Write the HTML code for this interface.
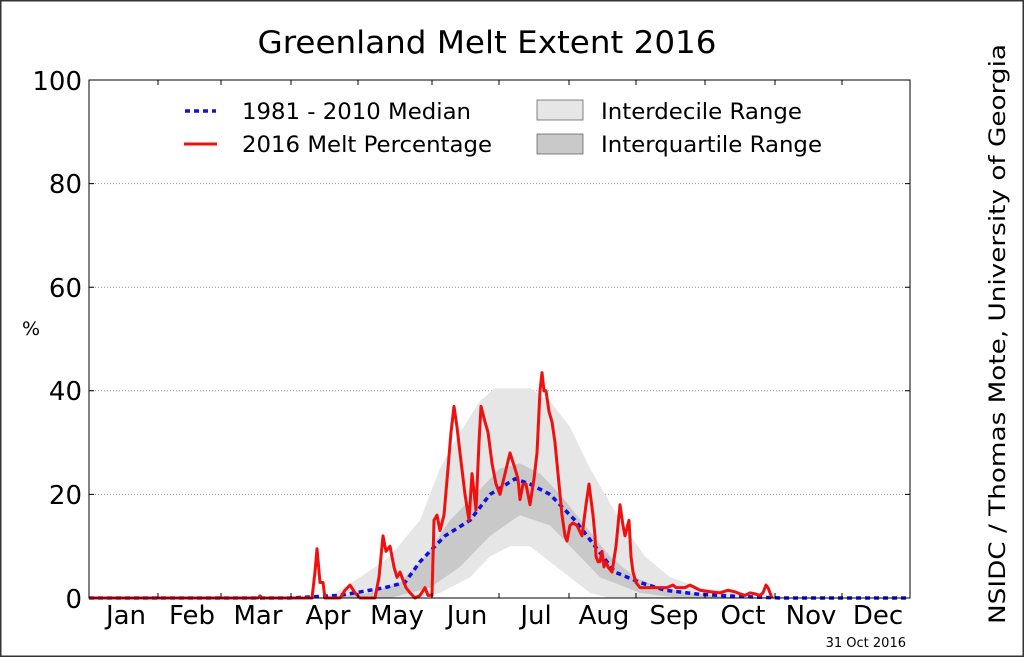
<!DOCTYPE html>
<html><head><meta charset="utf-8"><style>
html,body{margin:0;padding:0;background:#fff}
svg{display:block}
text{font-family:"DejaVu Sans","Liberation Sans",sans-serif;fill:#000}
</style></head><body>
<svg width="1024" height="657" viewBox="0 0 1024 657" xmlns="http://www.w3.org/2000/svg">
<rect x="0.5" y="0.5" width="1023" height="656" fill="#fff" stroke="#333" stroke-width="2"/>
<text x="487" y="53" font-size="31" text-anchor="middle" textLength="459" lengthAdjust="spacingAndGlyphs">Greenland Melt Extent 2016</text>
<text transform="translate(1005,334) rotate(-90)" font-size="22" text-anchor="middle" textLength="580" lengthAdjust="spacingAndGlyphs">NSIDC / Thomas Mote, University of Georgia</text>
<g stroke="#999" stroke-width="1" stroke-dasharray="1,2">
<line x1="89" x2="910" y1="494.4" y2="494.4"/><line x1="89" x2="910" y1="390.8" y2="390.8"/>
<line x1="89" x2="910" y1="287.2" y2="287.2"/><line x1="89" x2="910" y1="183.6" y2="183.6"/>
</g>
<g transform="translate(0,598) scale(1,-5.18)">
<polygon fill="#e6e6e6" points="300,0 320,0 335,1 360,4 390,8 420,15 440,25 460,32 480,38 495,40.5 530,40.5 550,38 570,33 590,25 620,15 645,8 670,4 700,2 740,1 800,0 800,0 610,0 590,1 570,4 550,7 530,10 510,10 490,8 470,4 440,1 420,0"/>
<polygon fill="#c9c9c9" points="330,0 370,1 400,3 425,8 450,15 475,20 500,25 520,26 540,24 560,20 585,14 610,8 635,4 660,2 690,1 740,0 680,0 640,1 600,4 580,8 550,14 520,16 490,12 460,6 430,2 390,0"/>
<polyline fill="none" stroke="#1010e0" stroke-width="3.5" vector-effect="non-scaling-stroke" stroke-dasharray="5,4" points="89,0 290,0 310,0.2 340,0.5 385,2 405,3 420,7 445,12 470,15 490,20 515,23 530,22 550,20 575,15 595,10 615,5 640,3 665,1.5 700,0.7 740,0.3 780,0 910,0"/>
<polyline fill="none" stroke="#f01010" stroke-width="3" vector-effect="non-scaling-stroke" stroke-linejoin="round" points="89,0 258,0 260,0.4 262,0 312,0 315,5 317,9.5 320,3 323,3 325,0 340,0 345,1.5 350,2.5 355,1 360,0 375,0 379,4 383,12 386,9 390,10 394,6 397,4 400,5 402,4 406,2 410,1 415,0 420,0.5 425,2 428,0.5 432,0.5 434,15 437,16 440,13 444,16 448,25 451,32 454,37 457,33 460,28 465,20 469,15 472,24 476,17 479,30 481,37 485,34 488,32 492,26 496,22 500,20 505,24 510,28 515,25 518,23 520,19 523,22 526,22 530,18 534,23 537,28 540,40 542,43.5 544,40 546,40 549,36 552,34 555,30 558,24 562,16 565,12 567,11 570,14 573,14.5 577,14 582,12 586,18 589,22 591,19 593,16 595,12 596,8 598,7 600,7 602,9 604,6 606,7 608,6 612,5 616,10 620,18 623,14 625,12 629,15 631,8 633,5 636,3 640,2 650,2 660,2 667,2 673,2.5 676,2 680,2 685,2 690,2.5 695,2 700,1.5 710,1.2 720,1 728,1.5 735,1.2 740,0.8 745,0.5 750,1 755,0.8 760,0.5 763,1 766,2.5 768,2 770,1 772,0"/>
</g>
<rect x="89" y="80" width="821" height="518" fill="none" stroke="#000" stroke-width="1"/>
<g stroke="#000" stroke-width="1">
<path d="M158,598v-5M221,598v-5M291,598v-5M358,598v-5M432,598v-5M499,598v-5M569,598v-5M636,598v-5M705,598v-5M775,598v-5M842,598v-5"/>
<path d="M158,80v5M221,80v5M291,80v5M358,80v5M432,80v5M499,80v5M569,80v5M636,80v5M705,80v5M775,80v5M842,80v5"/>
<path d="M89,494.4h5M89,390.8h5M89,287.2h5M89,183.6h5M910,494.4h-5M910,390.8h-5M910,287.2h-5M910,183.6h-5"/>
</g>
<g font-size="26" text-anchor="end">
<text x="82" y="608">0</text><text x="82" y="504">20</text><text x="82" y="400">40</text>
<text x="82" y="297">60</text><text x="82" y="193">80</text><text x="82" y="90">100</text>
</g>
<text x="31" y="335" font-size="19" text-anchor="middle">%</text>
<g font-size="26" text-anchor="middle">
<text x="126" y="624">Jan</text><text x="192" y="624">Feb</text><text x="258" y="624">Mar</text>
<text x="328" y="624">Apr</text><text x="397" y="624">May</text><text x="467" y="624">Jun</text>
<text x="536" y="624">Jul</text><text x="604" y="624">Aug</text><text x="674" y="624">Sep</text>
<text x="743" y="624">Oct</text><text x="811" y="624">Nov</text><text x="878" y="624">Dec</text>
</g>
<text x="906" y="647" font-size="13" text-anchor="end">31 Oct 2016</text>
<line x1="185" x2="216" y1="111" y2="111" stroke="#1010e0" stroke-width="3.5" stroke-dasharray="5,4"/>
<line x1="184" x2="217" y1="144" y2="144" stroke="#f01010" stroke-width="3"/>
<text x="242" y="119" font-size="22" textLength="229" lengthAdjust="spacingAndGlyphs">1981 - 2010 Median</text>
<text x="242" y="152" font-size="22" textLength="250" lengthAdjust="spacingAndGlyphs">2016 Melt Percentage</text>
<rect x="537" y="100" width="46" height="20" fill="#e6e6e6" stroke="#666" stroke-width="0.8"/>
<rect x="537" y="134" width="46" height="20" fill="#c9c9c9" stroke="#666" stroke-width="0.8"/>
<text x="601" y="119" font-size="22" textLength="201" lengthAdjust="spacingAndGlyphs">Interdecile Range</text>
<text x="601" y="152" font-size="22" textLength="221" lengthAdjust="spacingAndGlyphs">Interquartile Range</text>
</svg>
</body></html>
